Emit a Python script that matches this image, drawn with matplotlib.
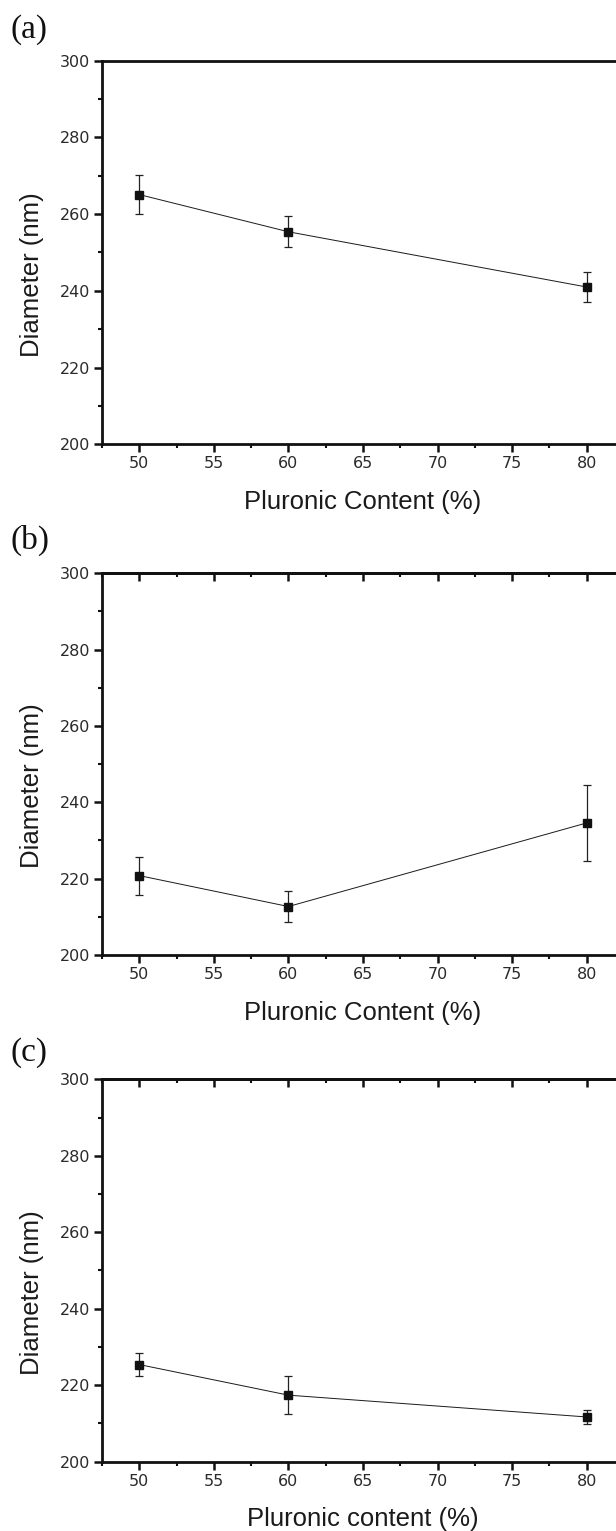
import matplotlib
matplotlib.use("Agg")
import matplotlib.pyplot as plt
from matplotlib.ticker import MultipleLocator

plt.rcParams["font.family"] = ["DejaVu Sans"]

# ---- data ----
pluronic = [50, 60, 80]
diam_a = [265.1, 255.4, 241.0]
err_a = [5.0, 4.0, 4.0]
diam_b = [220.8, 212.7, 234.6]
err_b = [5.0, 4.0, 10.0]
diam_c = [225.4, 217.4, 211.7]
err_c = [3.0, 5.0, 1.8]

panel_tags = ["(a)", "(b)", "(c)"]
xlabels = ["Pluronic Content (%)", "Pluronic Content (%)", "Pluronic content (%)"]
ylabel = "Diameter (nm)"
xticks = [50, 55, 60, 65, 70, 75, 80]
yticks = [200, 220, 240, 260, 280, 300]

W, H = 616, 1531
fig = plt.figure(figsize=(W / 100, H / 100), dpi=100)

left_px, right_px = 102, 624
panels_px = [(60.7, 444.3), (573.3, 955.0), (1079.3, 1461.7)]
tag_px = [(11, 30), (11, 540), (11, 1053)]
series = [(diam_a, err_a), (diam_b, err_b), (diam_c, err_c)]
mirror = [False, True, True]

for i, ((top, bot), (ys, es)) in enumerate(zip(panels_px, series)):
    ax = fig.add_axes([left_px / W, 1 - bot / H, (right_px - left_px) / W, (bot - top) / H])
    ax.errorbar(pluronic, ys, yerr=es, fmt="-s", color="#1a1a1a", lw=0.7,
                ms=6, mfc="#111111", mec="#111111", ecolor="#222222",
                elinewidth=0.9, capsize=3.2, capthick=0.9)
    ax.set_xlim(47.5, 82.5)
    ax.set_ylim(200, 300)
    ax.set_xticks(xticks)
    ax.set_yticks(yticks)
    ax.xaxis.set_minor_locator(MultipleLocator(2.5))
    ax.yaxis.set_minor_locator(MultipleLocator(10))
    for s in ax.spines.values():
        s.set_linewidth(2.0)
        s.set_color("#111111")
    ax.tick_params(which="major", direction="out", length=5.5, width=1.8,
                   colors="#111111", pad=3)
    ax.tick_params(which="minor", direction="out", length=3, width=1.5, colors="#111111")
    ax.tick_params(axis="both", labelsize=11.5, labelcolor="#2a2a2a")
    if mirror[i]:
        axt = ax.secondary_xaxis("top")
        axt.set_xticks(xticks)
        axt.xaxis.set_minor_locator(MultipleLocator(2.5))
        axt.tick_params(which="major", direction="in", length=5.5, width=1.8,
                        labeltop=False, colors="#111111")
        axt.tick_params(which="minor", direction="in", length=3, width=1.5, colors="#111111")
        axt.spines["top"].set_linewidth(2.0)
        axr = ax.secondary_yaxis("right")
        axr.set_yticks(yticks)
        axr.yaxis.set_minor_locator(MultipleLocator(10))
        axr.tick_params(which="major", direction="in", length=5.5, width=1.8,
                        labelright=False, colors="#111111")
        axr.tick_params(which="minor", direction="in", length=3, width=1.5, colors="#111111")
        axr.spines["right"].set_linewidth(2.0)
    ax.set_xlabel(xlabels[i], fontsize=18.5, family="Liberation Sans", color="#1a1a1a")
    ax.set_ylabel(ylabel, fontsize=18.5, family="Liberation Sans", color="#1a1a1a")
    hpx = bot - top
    ax.xaxis.set_label_coords(0.5, -(502 - 444.3) / hpx, transform=ax.transAxes)
    ax.yaxis.set_label_coords(-(102 - 32) / (right_px - left_px), (444.3 - 275) / hpx)
    ax.xaxis.label.set_va("center")
    ax.yaxis.label.set_va("center")
    tx, ty = tag_px[i]
    fig.text(tx / W, 1 - ty / H, panel_tags[i], fontsize=24, family="Liberation Serif",
             ha="left", va="center", color="#111111")

fig.savefig("out.png", dpi=100)
